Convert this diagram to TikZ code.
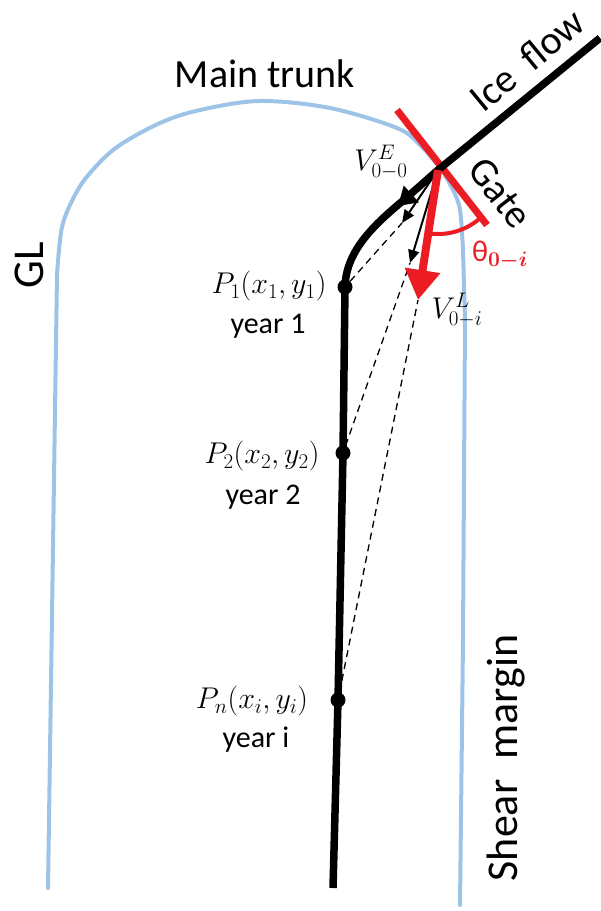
\RequirePackage{fix-cm}
\documentclass[tikz,border=0pt]{standalone}
\usepackage{amsmath}
\usepackage{fontspec}
\setmainfont{Carlito}
\usetikzlibrary{arrows.meta}
\definecolor{glblue}{RGB}{157,195,230}
\definecolor{gred}{RGB}{235,28,36}
\tikzset{
  glline/.style={glblue, line width=4pt, line cap=round, line join=round},
  trunk/.style={black, line width=7.5pt, line join=round},
  dot/.style={circle, fill=black, inner sep=0pt, minimum size=15pt},
  thinarrow/.style={black, line width=2pt, -{Triangle[length=13pt,width=11pt]}},
  dashln/.style={black, line width=1.3pt, dash pattern=on 7pt off 5pt},
  bigtxt/.style={font=\fontsize{40}{48}\selectfont, inner sep=0pt},
  sidetxt/.style={font=\fontsize{44}{52}\selectfont, inner sep=0pt},
  yeartxt/.style={font=\fontsize{30}{36}\selectfont, inner sep=0pt},
  mathtxt/.style={font=\fontsize{30}{35}\selectfont, inner sep=0pt},
}
\begin{document}
\begin{tikzpicture}[x=1pt,y=-1pt]
\useasboundingbox (0,0) rectangle (601,911);

% grounding line / margins
\draw[glline] (48,888) -- (57,275) -- plot[smooth, tension=0.55] coordinates {(57,275) (62,227) (75,195) (90,173) (117,147) (160,123) (200,110) (260,101) (330,108) (397,128) (420,145) (440,168) (453,190) (460,210) (463,250)} -- (465,320) -- (463,640) -- (460,905);

% gate
\draw[gred, line width=7pt] (397,110) -- (487,225);

% main flow line
\coordinate (O) at (438,170);
\node[dot] (P1) at (345,287) {};
\node[dot] (P2) at (343,453) {};
\node[dot] (Pn) at (338,700) {};
\coordinate (top) at (600,38);
\coordinate (bot) at (333,888);
\draw[trunk] (top) -- (O) -- (405,199) .. controls (375,224) and (346,250) .. (P1.center) -- (P2.center) -- (Pn.center) -- (bot);

% velocity arrows
\coordinate (tE) at (398,206);
\coordinate (t2) at (402,223);
\coordinate (t3) at (410,263);
\coordinate (tL) at (418,300);
\draw[black, line width=3pt, -{Triangle[length=18pt,width=22pt]}] (O) -- (tE);
\draw[thinarrow] (O) -- (t2);
\draw[thinarrow] (O) -- (t3);

% dashed links
\draw[dashln] (P1) -- (t2);
\draw[dashln] (P2) -- (t3);
\draw[dashln] (Pn) -- (tL);

% red arrow and angle
\draw[gred, line width=8pt, -{Triangle[length=30pt,width=34pt]}] (O) -- (tL);
\draw[gred, line width=4pt] plot[domain=48:99, samples=40] ({438+64*cos(\x)},{170+64*sin(\x)});

% labels
\node[bigtxt, anchor=base] (mt) at (265,87) {Main trunk};
\node[sidetxt, rotate=90, anchor=base] (gl) at (43,265) {GL};
\node[sidetxt, rotate=90, anchor=base] (sm) at (517,758) {Shear\ \ margin};
\node[bigtxt, rotate=39.5] (if) at (527,60) {Ice\ \ flow};
\node[bigtxt, rotate=-52] (gt) at (500,193) {Gate};
\node[mathtxt, text=gred] (th) at (500,255) {θ$_{\boldsymbol{0-i}}$};
\node[mathtxt] (ve) at (381,162) {$V_{0-0}^{E}$};
\node[mathtxt] (vl) at (457,310) {$V_{0-i}^{L}$};

\node[mathtxt] (l1) at (269,286) {$P_1(x_1,y_1)$};
\node[yeartxt] (y1) at (268,326) {year 1};
\node[mathtxt] (l2) at (262,456) {$P_2(x_2,y_2)$};
\node[yeartxt] (y2) at (263,497) {year 2};
\node[mathtxt] (ln) at (252,701) {$P_n(x_i,y_i)$};
\node[yeartxt] (yn) at (256,740) {year i};
\end{tikzpicture}
\end{document}
